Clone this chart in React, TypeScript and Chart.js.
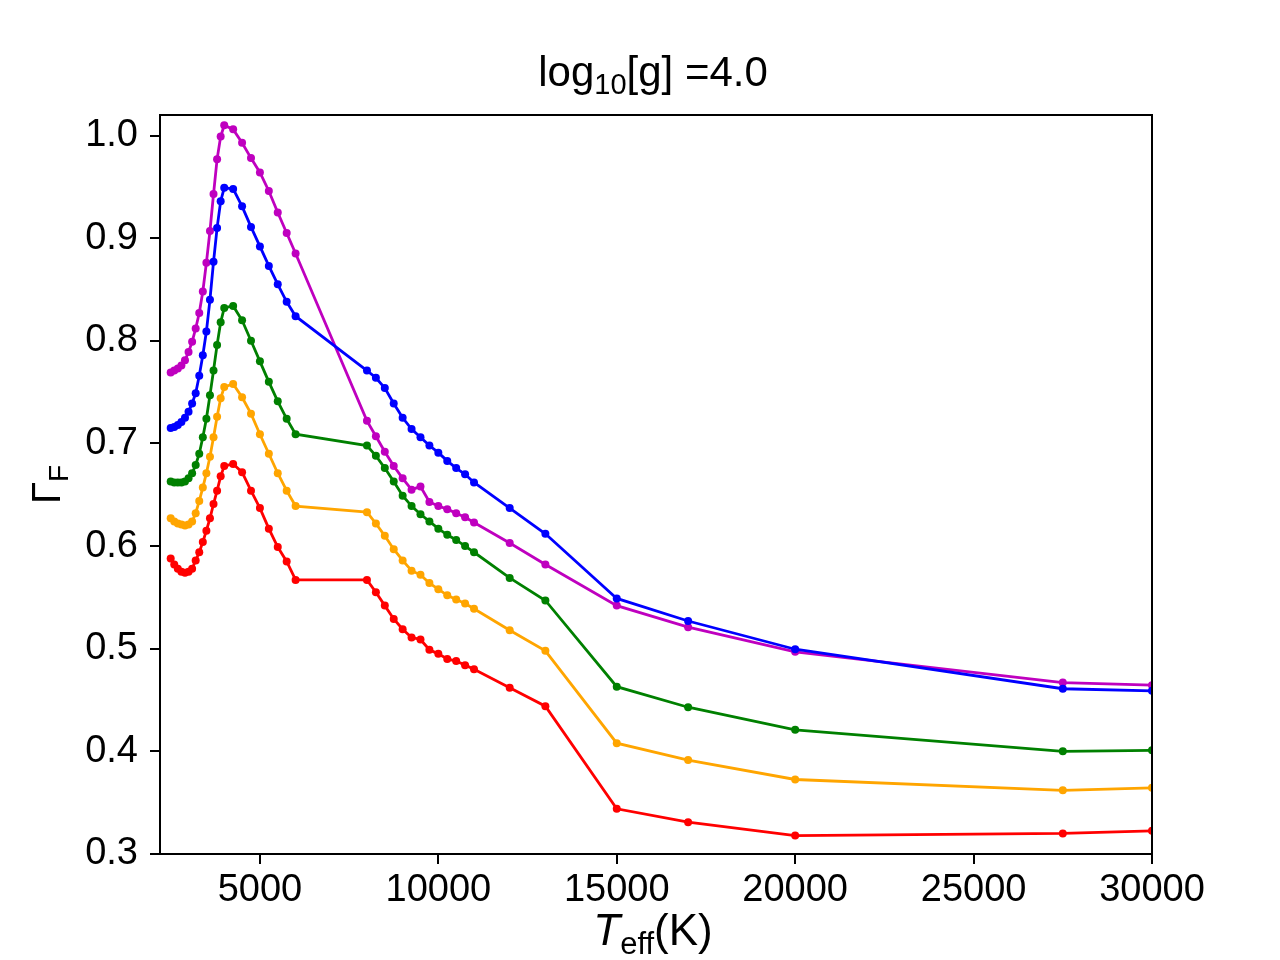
import React, { useEffect, useRef } from "react";
import { Chart, registerables } from "chart.js";

Chart.register(...registerables);

const temperatures = [
  2500, 2600, 2700, 2800, 2900, 3000, 3100, 3200, 3300, 3400, 3500, 3600, 3700, 3800, 3900, 4000,
  4250, 4500, 4750, 5000, 5250, 5500, 5750, 6000,
  8000, 8250, 8500, 8750, 9000, 9250, 9500, 9750, 10000, 10250, 10500, 10750, 11000,
  12000, 13000, 15000, 17000, 20000, 27500, 30000,
];

const magentaSeries = [
  0.769, 0.771, 0.773, 0.776, 0.781, 0.789, 0.799, 0.812, 0.827, 0.848, 0.876, 0.907, 0.943, 0.977, 0.999, 1.010,
  1.006, 0.993, 0.978, 0.964, 0.946, 0.925, 0.905, 0.885,
  0.722, 0.707, 0.692, 0.678, 0.666, 0.655, 0.658, 0.643, 0.639, 0.636, 0.632, 0.628, 0.623,
  0.603, 0.582, 0.542, 0.521, 0.497, 0.467, 0.4645,
];

const blueSeries = [
  0.715, 0.716, 0.718, 0.721, 0.725, 0.731, 0.739, 0.749, 0.766, 0.786, 0.809, 0.840, 0.877, 0.910, 0.936, 0.949,
  0.948, 0.931, 0.911, 0.892, 0.873, 0.855, 0.838, 0.824,
  0.771, 0.764, 0.754, 0.739, 0.725, 0.714, 0.706, 0.698, 0.691, 0.683, 0.676, 0.670, 0.662,
  0.637, 0.612, 0.549, 0.527, 0.4995, 0.461, 0.459,
];

const greenSeries = [
  0.663, 0.662, 0.662, 0.662, 0.663, 0.666, 0.671, 0.679, 0.690, 0.706, 0.724, 0.747, 0.771, 0.796, 0.818, 0.832,
  0.834, 0.820, 0.800, 0.780, 0.760, 0.741, 0.724, 0.709,
  0.698, 0.688, 0.676, 0.663, 0.649, 0.639, 0.631, 0.624, 0.617, 0.611, 0.606, 0.600, 0.594,
  0.569, 0.547, 0.463, 0.443, 0.421, 0.400, 0.401,
];

const orangeSeries = [
  0.627, 0.624, 0.622, 0.621, 0.620, 0.621, 0.624, 0.632, 0.644, 0.657, 0.671, 0.687, 0.706, 0.726, 0.744, 0.755,
  0.758, 0.745, 0.729, 0.709, 0.690, 0.671, 0.654, 0.639,
  0.633, 0.622, 0.610, 0.597, 0.586, 0.576, 0.572, 0.564, 0.558, 0.552, 0.548, 0.544, 0.539,
  0.518, 0.498, 0.408, 0.3915, 0.3726, 0.362, 0.3645,
];

const redSeries = [
  0.588, 0.582, 0.578, 0.575, 0.574, 0.575, 0.578, 0.586, 0.594, 0.604, 0.615, 0.627, 0.641, 0.654, 0.668, 0.678,
  0.680, 0.672, 0.654, 0.637, 0.617, 0.599, 0.585, 0.567,
  0.567, 0.555, 0.542, 0.529, 0.519, 0.511, 0.509, 0.499, 0.495, 0.490, 0.488, 0.484, 0.480,
  0.462, 0.444, 0.344, 0.331, 0.318, 0.320, 0.3226,
];

const xTicks = [5000, 10000, 15000, 20000, 25000, 30000];
const yTicks = [0.3, 0.4, 0.5, 0.6, 0.7, 0.8, 0.9, 1.0];

const FONT = '"Liberation Sans", Arial, sans-serif';

const seriesList = [
  { name: "b", color: "#0000ff", values: blueSeries },
  { name: "m", color: "#bf00bf", values: magentaSeries },
  { name: "g", color: "#008000", values: greenSeries },
  { name: "orange", color: "#ffa500", values: orangeSeries },
  { name: "r", color: "#ff0000", values: redSeries },
];

const decorPlugin = {
  id: "decor",
  afterDraw(chart: any) {
    const { ctx, chartArea } = chart;
    const { left, right, top, bottom } = chartArea;
    ctx.save();
    // frame
    ctx.strokeStyle = "#000";
    ctx.lineWidth = 2;
    ctx.strokeRect(left, top, right - left, bottom - top);

    ctx.fillStyle = "#000";
    ctx.textBaseline = "alphabetic";
    ctx.textAlign = "left";
    const cx = (left + right) / 2;

    // title: log_10[g] =4.0
    const tSize = 42;
    const tSub = 29;
    const parts: Array<[string, number, number]> = [
      ["log", tSize, 0],
      ["10", tSub, 8],
      ["[g] =4.0", tSize, 0],
    ];
    let total = 0;
    for (const [txt, sz] of parts) {
      ctx.font = `${sz}px ${FONT}`;
      total += ctx.measureText(txt).width;
    }
    let x = cx - total / 2 - 3;
    const titleBase = 86;
    for (const [txt, sz, off] of parts) {
      ctx.font = `${sz}px ${FONT}`;
      ctx.fillText(txt, x, titleBase + off);
      x += ctx.measureText(txt).width;
    }

    // x label: T_eff(K)
    const lSize = 44;
    const lSub = 31;
    const xparts: Array<[string, string, number]> = [
      ["T", `italic ${lSize}px ${FONT}`, 0],
      ["eff", `${lSub}px ${FONT}`, 9],
      ["(K)", `${lSize}px ${FONT}`, 0],
    ];
    total = 0;
    for (const [txt, f] of xparts) {
      ctx.font = f;
      total += ctx.measureText(txt).width;
    }
    x = cx - total / 2 - 3;
    const xBase = 945;
    for (const [txt, f, off] of xparts) {
      ctx.font = f;
      ctx.fillText(txt, x, xBase + off);
      x += ctx.measureText(txt).width;
    }

    // y label: Gamma_F
    const gSize = 40;
    const gSub = 28;
    ctx.translate(60, (top + bottom) / 2);
    ctx.rotate(-Math.PI / 2);
    const yparts: Array<[string, number, number]> = [
      ["Γ", gSize, 0],
      ["F", gSub, 8],
    ];
    total = 0;
    for (const [txt, sz] of yparts) {
      ctx.font = `${sz}px ${FONT}`;
      total += ctx.measureText(txt).width;
    }
    x = -total / 2;
    for (const [txt, sz, off] of yparts) {
      ctx.font = `${sz}px ${FONT}`;
      ctx.fillText(txt, x, off);
      x += ctx.measureText(txt).width;
    }
    ctx.restore();
  },
};

export default function App() {
  const canvasRef = useRef<HTMLCanvasElement | null>(null);

  useEffect(() => {
    if (!canvasRef.current) return;
    const chart = new Chart(canvasRef.current, {
      type: "line",
      data: {
        datasets: seriesList.map((s) => ({
          label: s.name,
          data: temperatures.map((t, i) => ({ x: t, y: s.values[i] })),
          borderColor: s.color,
          backgroundColor: s.color,
          pointBackgroundColor: s.color,
          pointBorderColor: s.color,
          borderWidth: 2.8,
          pointRadius: 4,
          pointBorderWidth: 0,
          tension: 0,
          fill: false,
          clip: 0,
        })),
      },
      options: {
        animation: false,
        responsive: true,
        maintainAspectRatio: false,
        devicePixelRatio: 1,
        layout: { padding: { left: 0, right: 128, top: 115, bottom: 0 } },
        plugins: {
          legend: { display: false },
          title: { display: false },
          tooltip: { enabled: false },
        },
        scales: {
          x: {
            type: "linear",
            min: 2200,
            max: 30000,
            afterFit: (s: any) => {
              s.height = 106;
            },
            afterBuildTicks: (s: any) => {
              s.ticks = xTicks.map((v) => ({ value: v }));
            },
            border: { display: false },
            grid: {
              drawOnChartArea: false,
              drawTicks: true,
              tickLength: 10,
              color: "#000",
              lineWidth: 2,
            },
            ticks: {
              color: "#000",
              font: { family: FONT, size: 38 },
              padding: 4,
              maxRotation: 0,
              autoSkip: false,
              callback: (v: any) => String(v),
            },
          },
          y: {
            type: "linear",
            min: 0.3,
            max: 1.02,
            afterFit: (s: any) => {
              s.width = 160;
            },
            afterBuildTicks: (s: any) => {
              s.ticks = yTicks.map((v) => ({ value: v }));
            },
            border: { display: false },
            grid: {
              drawOnChartArea: false,
              drawTicks: true,
              tickLength: 10,
              color: "#000",
              lineWidth: 2,
            },
            ticks: {
              color: "#000",
              font: { family: FONT, size: 38 },
              padding: 12,
              autoSkip: false,
              callback: (v: any) => Number(v).toFixed(1),
            },
          },
        },
      },
      plugins: [decorPlugin],
    });
    return () => chart.destroy();
  }, []);

  return (
    <div style={{ position: "fixed", left: 0, top: 0, width: 1280, height: 960, background: "#fff" }}>
      <canvas ref={canvasRef} />
    </div>
  );
}
